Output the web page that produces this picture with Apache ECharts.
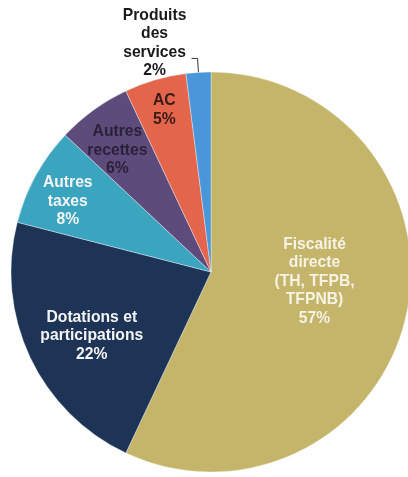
<!DOCTYPE html>
<html>
<head>
<meta charset="utf-8">
<script src="https://cdn.jsdelivr.net/npm/echarts@6/dist/echarts.min.js"></script>
<style>
	html,body{margin:0;padding:0;background:#fff;}
	#chart{width:408px;height:477px;}
</style>
</head>
<body>
<div id="chart"></div>
<script>
	// parts of the budget, clockwise from 12 o'clock
	var names=['Fiscalité\ndirecte\n(TH, TFPB,\nTFPNB)','Dotations et\nparticipations','Autres\ntaxes','Autres\nrecettes','AC','Produits\ndes\nservices'];
	var values=[57,22,8,6,5,2];
	var colors=['#c4b56a','#1e3457','#3ba5c0','#5d4b7b','#e2654c','#4996d9'];
	var textColors=['#f6f2e4','#f4f4f4','#f4f4f4','#2a2238','#3a1a14','#1a1a1a'];
	// nudges from the default inside label spot
	var nudges=[[3,-13],[-26,20],[-53,-21],[-33,-38],[-18,-63],null];

	var myChart=echarts.init(document.getElementById('chart'));
	var mydata=[];
	values.forEach(function(v,i){
		var item={
			name:names[i],
			value:v,
			itemStyle:{color:colors[i]},
			label:{color:textColors[i]}
		};
		if(i==5){
			item.label={
				position:'outside',
				color:textColors[i],
				padding:[0,0,30,0],
				formatter:function(p){
					return p.name.split('\n').concat([p.value+'%']).map(function(s){
						return '{c|'+s+'}';
					}).join('\n');
				},
				rich:{
					c:{width:64,align:'center',fontSize:15.7,fontWeight:'bold',lineHeight:18.5,
						fontFamily:'Liberation Sans',color:textColors[i]}
				}
			};
			item.labelLine={show:true,length:14,length2:6,lineStyle:{color:'#333',width:1}};
		}
		mydata.push(item);
	});

	var option={
		animation:false,
		series:[{
			type:'pie',
			center:[211,272],
			radius:200,
			startAngle:90,
			clockwise:true,
			avoidLabelOverlap:false,
			itemStyle:{borderColor:'rgba(255,255,255,0.45)',borderWidth:0.8},
			label:{
				show:true,
				position:'inside',
				fontFamily:'Liberation Sans',
				fontWeight:'bold',
				fontSize:15.7,
				lineHeight:18.5,
				align:'center',
				formatter:function(p){
					return p.name+'\n'+p.value+'%';
				}
			},
			labelLine:{show:false},
			labelLayout:function(params){
				var n=nudges[params.dataIndex];
				if(!n){
					return {};
				}
				return {dx:n[0],dy:n[1]};
			},
			data:mydata
		}]
	};
	myChart.setOption(option);
</script>
</body>
</html>
